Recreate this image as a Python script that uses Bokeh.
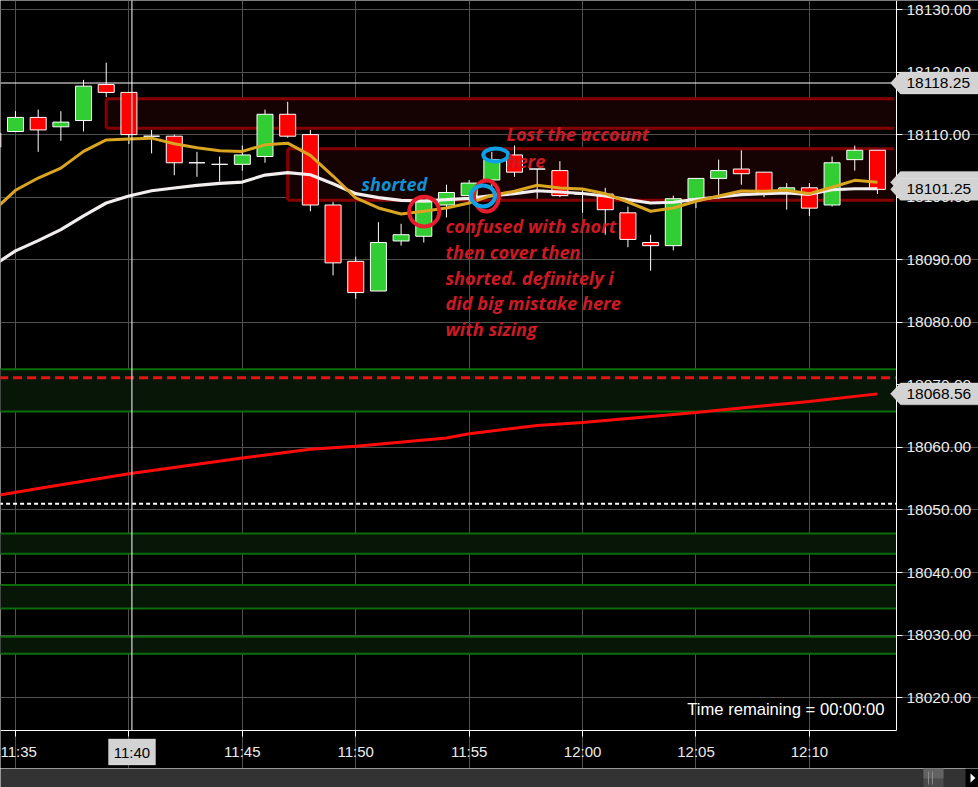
import numpy as np
from bokeh.plotting import figure
from bokeh.models import (Range1d, FixedTicker, PrintfTickFormatter, Label,
                          PolyAnnotation, ColumnDataSource)
from bokeh.layouts import column
from bokeh.core.properties import value
from bokeh.embed import file_html
from bokeh.resources import INLINE

# ---------------- data ----------------
times = ["11:34", "11:35", "11:36", "11:37", "11:38", "11:39", "11:40", "11:41", "11:42", "11:43",
         "11:44", "11:45", "11:46", "11:47", "11:48", "11:49", "11:50", "11:51", "11:52", "11:53",
         "11:54", "11:55", "11:56", "11:57", "11:58", "11:59", "12:00", "12:01", "12:02", "12:03",
         "12:04", "12:05", "12:06", "12:07", "12:08", "12:09", "12:10", "12:11", "12:12", "12:13"]
opens = [18110.25, 18110.50, 18112.75, 18111.25, 18112.25, 18118.00, 18116.75, 18109.75, 18109.75, 18105.50,
         18105.25, 18105.25, 18106.50, 18113.25, 18110.00, 18098.75, 18089.75, 18085.00, 18093.00, 18093.75,
         18098.75, 18100.25, 18102.75, 18106.75, 18104.50, 18104.25, 18100.50, 18100.50, 18097.50, 18092.75,
         18092.25, 18099.75, 18103.00, 18104.50, 18104.00, 18101.00, 18101.50, 18098.75, 18106.00, 18107.50]
highs = [18111.00, 18113.75, 18114.00, 18113.75, 18118.75, 18121.50, 18116.75, 18110.75, 18110.00, 18107.25,
         18106.50, 18108.25, 18114.00, 18115.25, 18110.75, 18099.25, 18090.50, 18096.00, 18095.75, 18099.50,
         18102.00, 18102.75, 18107.25, 18108.25, 18104.50, 18105.75, 18101.25, 18101.50, 18098.50, 18094.00,
         18100.25, 18103.00, 18106.00, 18107.50, 18104.00, 18102.25, 18102.25, 18106.50, 18108.25, 18107.50]
lows = [18106.75, 18110.50, 18107.25, 18109.00, 18110.50, 18116.00, 18108.50, 18107.00, 18103.50, 18103.25,
        18102.50, 18104.25, 18105.50, 18109.50, 18097.75, 18087.50, 18083.75, 18085.00, 18092.25, 18092.75,
        18096.75, 18099.00, 18101.00, 18103.25, 18099.75, 18100.00, 18097.50, 18094.00, 18092.00, 18088.25,
        18091.50, 18098.25, 18099.75, 18102.00, 18100.00, 18098.00, 18097.00, 18098.50, 18104.25, 18100.50]
closes = [18108.00, 18112.75, 18110.75, 18112.00, 18117.75, 18116.75, 18110.00, 18109.75, 18105.50, 18105.50,
          18105.25, 18106.75, 18113.25, 18109.75, 18098.75, 18089.50, 18084.75, 18092.75, 18094.00, 18099.25,
          18100.75, 18102.25, 18106.00, 18104.00, 18104.50, 18100.25, 18100.50, 18098.00, 18093.25, 18092.25,
          18099.75, 18103.00, 18104.25, 18103.75, 18100.75, 18101.50, 18098.25, 18105.50, 18107.50, 18101.25]

ma_fast = [18097.75, 18101.10, 18103.06, 18104.65, 18107.32, 18109.16, 18109.32, 18109.44, 18108.53, 18107.89,
           18107.41, 18107.32, 18108.37, 18108.64, 18106.68, 18103.38, 18099.87, 18098.28, 18097.32, 18097.75,
           18098.28, 18099.07, 18100.30, 18100.94, 18101.90, 18101.47, 18101.31, 18100.56, 18099.23, 18097.75,
           18098.28, 18099.34, 18100.19, 18100.99, 18100.94, 18101.10, 18100.56, 18101.58, 18102.69, 18102.37]
ma_slow = [18089.03, 18091.42, 18093.06, 18094.82, 18097.00, 18099.07, 18100.19, 18101.03, 18101.47, 18101.90,
           18102.21, 18102.42, 18103.54, 18103.94, 18103.59, 18102.15, 18100.56, 18099.92, 18099.50, 18099.39,
           18099.60, 18099.82, 18100.24, 18100.56, 18101.03, 18100.83, 18100.59, 18100.19, 18099.60, 18099.07,
           18099.19, 18099.66, 18100.03, 18100.40, 18100.56, 18100.67, 18100.46, 18101.19, 18101.35, 18101.35]

vwap_times = ["11:34", "11:36", "11:40", "11:45", "11:48", "11:50", "11:54", "11:55", "11:58", "12:00",
              "12:05", "12:10", "12:13"]
vwap_values = [18052.20, 18053.43, 18055.80, 18058.30, 18059.70, 18060.20, 18061.50, 18062.20, 18063.50,
               18064.00, 18065.60, 18067.35, 18068.56]

zone_tops = [18072.50, 18046.25, 18038.00, 18029.75]
zone_bottoms = [18065.75, 18043.00, 18034.25, 18027.00]
red_dash_level = 18071.13
white_dash_level = 18051.00

box_starts = ["11:39", "11:47"]
box_tops = [18115.75, 18107.75]
box_bottoms = [18111.00, 18099.50]

crosshair_time = "11:40:08"
crosshair_price = 18118.25
last_price = 18101.25
vwap_last = 18068.56
ma_fast_last = 18102.37

time_ticks = ["11:35", "11:40", "11:45", "11:50", "11:55", "12:00", "12:05", "12:10"]
time_tick_labels = ["11:35", "11:40", "11:45", "11:50", "11:55", "12:00", "12:05", "12:10"]
highlight_time_label = "11:40"
price_ticks = [18020, 18030, 18040, 18050, 18060, 18070, 18080, 18090, 18100, 18110, 18120, 18130]

note_lost = ["Lost the account", "here"]
note_confused = ["confused with short", "then cover then", "shorted. definitely i",
                 "did big mistake here", "with sizing"]
note_shorted = "shorted"
timer_text = "Time remaining = 00:00:00"


def tmin(s):
    parts = [int(v) for v in s.split(":")]
    m = parts[0] * 60 + parts[1]
    if len(parts) > 2:
        m += parts[2] / 60.0
    return m


# ---------------- geometry ----------------
W, H_MAIN, H_SCROLL = 978, 768, 19
PLOT_W = 896          # px from left edge to price axis
TOP_PAD = 2           # px above the price area
PLOT_H = 728          # px of price area
X0, XA = tmin("11:35") - 0.661, tmin("11:35") + 38.84     # left edge, axis time
YA, YT = 18014.75, 18131.12                               # axis price, top price
PPX = PLOT_W / (XA - X0)
PPY = PLOT_H / (YT - YA)
SX, SY = PLOT_W / 896.0, PLOT_H / 730.0


def fx(rx):  # reference-pixel x -> data
    return X0 + rx * (XA - X0) / 896.0


def fy(ry):  # reference-pixel y -> data
    return YT - ry * (YT - YA) / 730.0


FONT_AX = "Liberation Sans"
FONT_NOTE = "Open Sans"

p = figure(width=W, height=H_MAIN,
           x_range=Range1d(X0, X0 + W / PPX),
           y_range=Range1d(YA - (H_MAIN - TOP_PAD - PLOT_H) / PPY, YT + TOP_PAD / PPY),
           y_axis_location="right", output_backend="svg", toolbar_location=None,
           background_fill_color="#000000", border_fill_color="#000000",
           min_border=0, outline_line_color=None)

# axes (fixed inside the frame so that tags can sit on top of them)
xt = [tmin(t) for t in time_ticks]
p.xaxis.ticker = FixedTicker(ticks=xt)
p.xaxis.major_label_overrides = {m: ("" if lab == highlight_time_label else lab)
                                 for m, lab in zip(xt, time_tick_labels)}
p.xaxis.fixed_location = YA
p.xaxis.bounds = (X0, XA)
p.yaxis.ticker = FixedTicker(ticks=price_ticks)
p.yaxis.formatter = PrintfTickFormatter(format="%.2f")
p.yaxis.fixed_location = XA
p.yaxis.bounds = (YA, YT + TOP_PAD / PPY)
for ax in (p.xaxis[0], p.yaxis[0]):
    ax.axis_line_color = "#ffffff"
    ax.axis_line_width = 1
    ax.major_tick_line_color = "#ffffff"
    ax.major_tick_out = 6
    ax.major_tick_in = 0
    ax.minor_tick_line_color = None
    ax.major_label_text_color = "#ececec"
    ax.major_label_text_font = FONT_AX
    ax.major_label_text_font_size = "15px"
p.yaxis.major_label_standoff = 4
p.yaxis.major_label_text_font_size = "15.5px"
p.xaxis.major_label_standoff = 6
p.xgrid.grid_line_color = "#505050"
p.ygrid.grid_line_color = "#505050"
p.xgrid.bounds = (YA, YT + TOP_PAD / PPY)
p.ygrid.bounds = (X0, XA)

# green zones
p.quad(left=X0 - 5, right=XA, top=zone_tops, bottom=zone_bottoms,
       fill_color="#081608", line_color=None)
zl = zone_tops + zone_bottoms
p.segment(x0=[X0 - 5] * len(zl), x1=[XA] * len(zl), y0=zl, y1=zl,
          line_color="#0b6c0b", line_width=2)

# dashed levels
p.segment(x0=[X0 - 5], x1=[XA], y0=[red_dash_level], y1=[red_dash_level],
          line_color="#e81414", line_width=3, line_dash="9 5")
p.segment(x0=[X0 - 5], x1=[XA], y0=[white_dash_level], y1=[white_dash_level],
          line_color="#ffffff", line_width=2, line_dash="4 3")

# vwap
p.line([tmin(t) for t in vwap_times], vwap_values, line_color="#ff0a0a", line_width=3)

# dark red boxes (under the candles)
bl = [tmin(t) for t in box_starts]
p.quad(left=bl, right=[XA] * len(bl), top=box_tops, bottom=box_bottoms,
       fill_color="#150303", line_color=None)
nb = len(bl)
p.segment(x0=bl + bl + bl, x1=[XA - 0.1] * (2 * nb) + bl,
          y0=box_tops + box_bottoms + box_tops, y1=box_tops + box_bottoms + box_bottoms,
          line_color="#850000", line_width=3)

# candles
xs = [tmin(t) for t in times]
src = ColumnDataSource(dict(
    x=xs,
    top=[max(o, c) for o, c in zip(opens, closes)],
    bottom=[min(o, c) for o, c in zip(opens, closes)],
    high=highs, low=lows,
    color=["#32cd32" if c > o else ("#ff0000" if c < o else "#ffffff") for o, c in zip(opens, closes)],
))
p.segment(x0="x", y0="high", x1="x", y1="low", source=src, line_color="#ffffff", line_width=1)
p.vbar(x="x", width=0.705, top="top", bottom="bottom", source=src,
       fill_color="color", line_color="#ffffff", line_width=1)

# moving averages
p.line(xs, ma_slow, line_color="#f2eeee", line_width=3.2)
p.line(xs, ma_fast, line_color="#daa520", line_width=3)

# crosshair
ct = tmin(crosshair_time)
p.segment(x0=[ct, X0], x1=[ct, XA], y0=[YA, crosshair_price], y1=[YT + 1, crosshair_price],
          line_color="#ffffff", line_width=1)

# annotations: circles
p.ellipse(x=[fx(423.7), fx(486)], y=[fy(209.7), fy(194)], width=[30 * SX, 25 * SX],
          height=[30 * SY, 31 * SY], width_units="screen", height_units="screen",
          fill_color=None, line_color="#e81c2c", line_width=4)
p.ellipse(x=[fx(482.5), fx(495.3)], y=[fy(194), fy(153)], width=[24 * SX, 25 * SX],
          height=[21 * SY, 13 * SY], width_units="screen", height_units="screen",
          fill_color=None, line_color="#0ea0e6", line_width=4)

# annotation texts
p.text(x=[fx(361)], y=[fy(182)], text=[note_shorted], text_font=value(FONT_NOTE),
       text_font_style="bold italic", text_font_size="18px", text_color="#1190d2",
       text_baseline="middle", text_align="left")
p.text(x=[fx(506)] * len(note_lost), y=[fy(132), fy(159)], text=note_lost,
       text_font=value(FONT_NOTE), text_font_style="bold italic", text_font_size="18.2px",
       text_color="#cc1a24", text_baseline="middle", text_align="left")
p.text(x=[fx(445)] * len(note_confused), y=[fy(v) for v in (224, 250, 276, 301, 327)],
       text=note_confused, text_font=value(FONT_NOTE), text_font_style="bold italic",
       text_font_size="18.2px", text_color="#cc1a24", text_baseline="middle", text_align="left")

p.add_layout(Label(x=fx(884), y=fy(709), text=timer_text, text_align="right",
                   text_baseline="middle", text_color="#ffffff", text_font=FONT_AX,
                   text_font_size="16.6px"))


# price tags on the right axis
def price_tag(price, txt):
    h = 11 * (YT - YA) / 730.0
    p.add_layout(PolyAnnotation(
        xs=[fx(890), fx(900), fx(1000), fx(1000), fx(900)],
        ys=[price, price + h, price + h, price - h, price - h],
        fill_color="#d3d3d3", fill_alpha=1.0, line_color="#f4f4f4", line_width=1,
        level="overlay"))
    if txt:
        p.add_layout(Label(x=fx(906), y=price, text=txt, text_align="left",
                           text_baseline="middle", text_color="#000000", text_font=FONT_AX,
                           text_font_size="15.5px", level="overlay"))


price_tag(crosshair_price, "%.2f" % crosshair_price)
price_tag(ma_fast_last, "")
price_tag(last_price, "%.2f" % last_price)
price_tag(vwap_last, "%.2f" % vwap_last)

# highlighted time label
p.add_layout(PolyAnnotation(xs=[fx(108), fx(155), fx(155), fx(108)],
                            ys=[fy(738.5), fy(738.5), fy(764.5), fy(764.5)],
                            fill_color="#d3d3d3", fill_alpha=1.0, line_color="#f4f4f4",
                            line_width=1, level="overlay"))
p.add_layout(Label(x=fx(131.5), y=fy(752), text=highlight_time_label, text_align="center",
                   text_baseline="middle", text_color="#000000", text_font=FONT_AX,
                   text_font_size="15px", level="overlay"))

# ---------------- scrollbar strip ----------------
s = figure(width=W, height=H_SCROLL, x_range=Range1d(0, W), y_range=Range1d(0, H_SCROLL),
           output_backend="svg", toolbar_location=None, background_fill_color="#333333",
           border_fill_color="#333333", min_border=0, outline_line_color=None)
s.axis.visible = False
s.grid.visible = False
s.quad(left=[923], right=[943], bottom=[0], top=[19], fill_color="#4a4a4a", line_color=None)
s.quad(left=[923], right=[943], bottom=[9], top=[19], fill_color="#626262", line_color=None)
s.segment(x0=[928, 932], y0=[3, 3], x1=[928, 932], y1=[16, 16],
          line_color="#8a8a8a", line_width=1)
s.quad(left=[965], right=[W], bottom=[0], top=[19], fill_color="#000000", line_color=None)
s.patch(x=[970, 975, 970], y=[5, 9.5, 14], fill_color="#ffffff", line_color=None)

layout = column(p, s, spacing=0)
open("out.html", "w").write(file_html(layout, INLINE))
